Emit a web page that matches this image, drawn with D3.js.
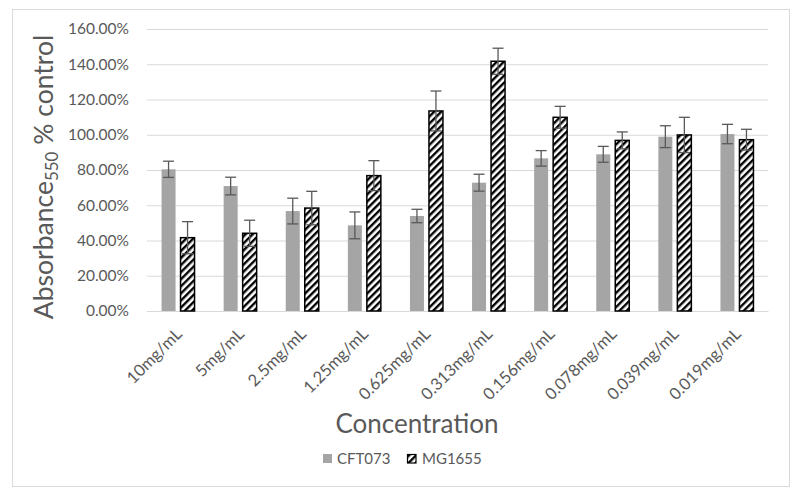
<!DOCTYPE html>
<html><head><meta charset="utf-8">
<script src="https://cdn.jsdelivr.net/npm/d3@7"></script>
<style>body{margin:0;background:#fff}svg{display:block}text{font-family:Lato,"Open Sans",sans-serif;fill:#595959}</style>
</head><body><svg id="c" width="800" height="497"></svg>
<script>
const categories = ["10mg/mL","5mg/mL","2.5mg/mL","1.25mg/mL","0.625mg/mL","0.313mg/mL","0.156mg/mL","0.078mg/mL","0.039mg/mL","0.019mg/mL"];
const series = ["CFT073","MG1655"];
const cft = [80.4, 70.9, 56.7, 48.6, 53.9, 72.8, 86.6, 88.9, 98.9, 100.4];
const cftErr = [4.6, 5.0, 7.3, 7.6, 3.8, 4.8, 4.4, 4.5, 6.2, 5.5];
const mg = [41.6, 44.1, 58.4, 76.8, 113.5, 141.7, 109.9, 96.8, 99.9, 97.2];
const mgErr = [9.1, 7.4, 9.5, 8.5, 11.3, 7.4, 6.2, 4.8, 10.0, 5.9];
const yTicks = [0, 20, 40, 60, 80, 100, 120, 140, 160];

(function(){
const svg = d3.select("#c");
const defs = svg.append("defs");
const pat = defs.append("pattern").attr("id","hatch").attr("patternUnits","userSpaceOnUse")
  .attr("width",5).attr("height",5).attr("patternTransform","rotate(45)");
pat.append("rect").attr("width",5).attr("height",5).attr("fill","#fff");
pat.append("rect").attr("x",0).attr("y",0).attr("width",2.4).attr("height",5).attr("fill","#000");

// frame
svg.append("rect").attr("x",12.5).attr("y",9.5).attr("width",777).attr("height",477)
  .attr("fill","#fff").attr("stroke","#d9d9d9").attr("stroke-width",1);

const pl = 147, pr = 768, pt = 29, pb = 311;
const x0 = d3.scaleBand().domain(categories).range([pl,pr]).padding(0);
const x1 = d3.scaleBand().domain(series).range([0,33]).paddingInner(5/19).paddingOuter(0);
const y = d3.scaleLinear().domain([0,160]).range([pb,pt]);

// gridlines
const yAxis = d3.axisLeft(y).tickValues(yTicks).tickSize(-(pr-pl)).tickFormat(d => d.toFixed(2)+"%");
const ga = svg.append("g").attr("transform",`translate(${pl},0)`).call(yAxis);
ga.select(".domain").remove();
ga.selectAll(".tick line").attr("stroke","#d9d9d9").attr("stroke-width",1);
ga.selectAll(".tick text").attr("x",-18).attr("font-size","15.5px").style("fill","#595959")
  .attr("font-family","Lato");

// x axis
const xAxis = d3.axisBottom(x0).tickSize(0);
const gx = svg.append("g").attr("transform",`translate(0,${pb})`).call(xAxis);
gx.select(".domain").attr("stroke","#d9d9d9");
gx.selectAll(".tick text").attr("font-size","16.5px").attr("font-family","Lato").style("fill","#595959")
  .attr("text-anchor","end").attr("dy",0).attr("y",0)
  .attr("transform","translate(5,24) rotate(-45)");

const rows = categories.map((c,i)=>({c, vals:[{s:"CFT073",v:cft[i],e:cftErr[i]},{s:"MG1655",v:mg[i],e:mgErr[i]}]}));
const groups = svg.append("g").selectAll("g").data(rows).join("g")
  .attr("transform", d => `translate(${x0(d.c)+x0.bandwidth()/2-16.5},0)`);
groups.selectAll("rect").data(d=>d.vals).join("rect")
  .attr("x", d => x1(d.s)).attr("width", x1.bandwidth())
  .attr("y", d => y(d.v)).attr("height", d => y(0)-y(d.v))
  .attr("fill", d => d.s==="CFT073" ? "#a5a5a5" : "url(#hatch)")
  .attr("stroke", d => d.s==="CFT073" ? "none" : "#000")
  .attr("stroke-width", 1.5);
// error bars
const eb = groups.selectAll("g.err").data(d=>d.vals).join("g").attr("class","err")
  .attr("stroke","#595959").attr("stroke-width",1.3);
eb.append("line").attr("x1",d=>x1(d.s)+x1.bandwidth()/2).attr("x2",d=>x1(d.s)+x1.bandwidth()/2)
  .attr("y1",d=>y(d.v+d.e)).attr("y2",d=>y(d.v-d.e));
eb.append("line").attr("x1",d=>x1(d.s)+x1.bandwidth()/2-5.5).attr("x2",d=>x1(d.s)+x1.bandwidth()/2+5.5)
  .attr("y1",d=>y(d.v+d.e)).attr("y2",d=>y(d.v+d.e));
eb.append("line").attr("x1",d=>x1(d.s)+x1.bandwidth()/2-5.5).attr("x2",d=>x1(d.s)+x1.bandwidth()/2+5.5)
  .attr("y1",d=>y(d.v-d.e)).attr("y2",d=>y(d.v-d.e));

// y title
const yt = svg.append("text").attr("transform","translate(53,177) rotate(-90)")
  .attr("text-anchor","middle").attr("font-size","26.5px");
yt.append("tspan").text("Absorbance");
yt.append("tspan").attr("font-size","17px").attr("dy",5).text("550");
yt.append("tspan").attr("dy",-5).text(" % control");

// x title
svg.append("text").attr("x",417).attr("y",433).attr("text-anchor","middle").attr("font-size","26px").text("Concentration");

// legend
const lg = svg.append("g");
lg.append("rect").attr("x",323).attr("y",454).attr("width",9).attr("height",9).attr("fill","#a5a5a5");
lg.append("text").attr("x",337).attr("y",464).attr("font-size","15px").text("CFT073");
lg.append("rect").attr("x",407.5).attr("y",454.5).attr("width",8.5).attr("height",8.5).attr("fill","url(#hatch)").attr("stroke","#000").attr("stroke-width",1.2);
lg.append("text").attr("x",422).attr("y",464).attr("font-size","15px").text("MG1655");
})();
</script></body></html>
